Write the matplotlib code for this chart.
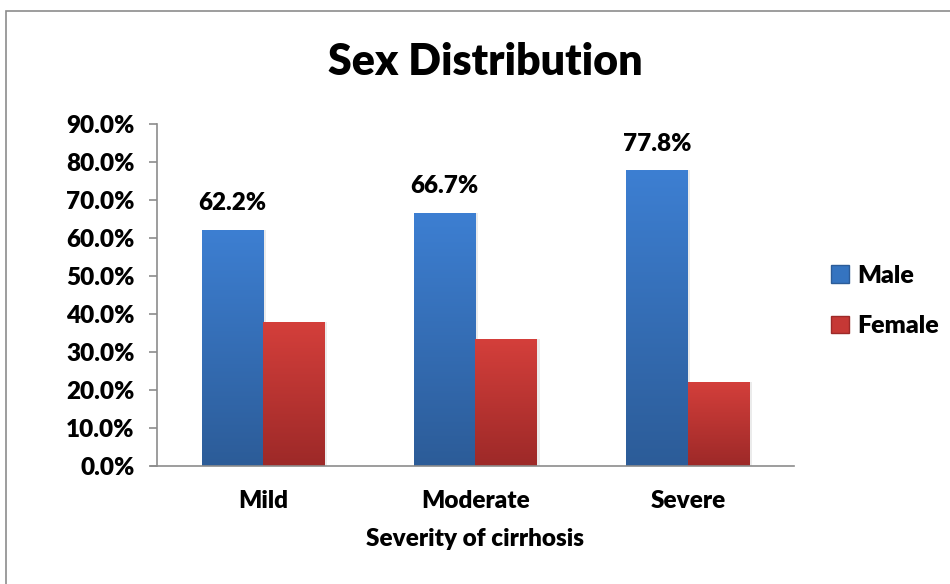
import numpy as np
import matplotlib
matplotlib.use("Agg")
import matplotlib.pyplot as plt
from matplotlib.colors import LinearSegmentedColormap
from matplotlib.patches import Rectangle, Patch

plt.rcParams['font.family'] = ['Lato', 'DejaVu Sans']
plt.rcParams['font.weight'] = 'heavy'
FW = 'heavy'

# 重症度ごとの男女比 (%)
categories = ['Mild', 'Moderate', 'Severe']
male = [62.2, 66.7, 77.8]
female = [37.8, 33.3, 22.2]
yticks = [0, 10, 20, 30, 40, 50, 60, 70, 80, 90]

# 棒グラフのグラデーション (上が明るく下が暗い)
blue_cmap = LinearSegmentedColormap.from_list('blue', ['#2c5c98', '#3d7fd2'])
red_cmap = LinearSegmentedColormap.from_list('red', ['#9d2928', '#d43f3b'])

fig = plt.figure(figsize=(9.5, 5.84), dpi=100)
# 外枠
fig.patches.append(Rectangle((6 / 950, -0.1), 1.2, 1 - 11 / 584 + 0.1,
                             transform=fig.transFigure, fill=False,
                             edgecolor='#8c8c8c', linewidth=1.2))

ax = fig.add_axes([157 / 950, 1 - 466 / 584, 637 / 950, 342 / 584])

x = np.arange(len(categories))
w = 0.29


def gradient_bars(xs, vals, cmap):
    bars = ax.bar(xs, vals, w, color='none', edgecolor='none', zorder=2)
    grad = np.linspace(0, 1, 256).reshape(-1, 1)
    for b in bars:
        x0, y0 = b.get_x(), b.get_y()
        # 右側にうっすら影
        ax.add_patch(Rectangle((x0 + 0.012, y0), b.get_width(), b.get_height(),
                               facecolor='#000000', alpha=0.08,
                               edgecolor='none', zorder=1))
        im = ax.imshow(grad, cmap=cmap, origin='lower', aspect='auto',
                       extent=[x0, x0 + b.get_width(), y0, y0 + b.get_height()],
                       zorder=2)
        im.set_clip_path(b)
    return bars


gradient_bars(x - w / 2, male, blue_cmap)
gradient_bars(x + w / 2, female, red_cmap)

for xi, v in zip(x - w / 2, male):
    ax.text(xi, v + 4, f'{v:.1f}%', ha='center', va='bottom',
            fontsize=17.5, fontweight=FW)

ax.set_xlim(-0.5, 2.5)
ax.set_ylim(0, 90)
ax.set_yticks(yticks)
ax.set_yticklabels([f'{t:.1f}%' for t in yticks], fontsize=17.5, fontweight=FW)
ax.set_xticks(x)
ax.set_xticklabels(categories, fontsize=17.5, fontweight=FW)
ax.tick_params(axis='x', length=0, pad=17)
ax.tick_params(axis='y', length=6, width=1.2, color='#8c8c8c', pad=10)
for s in ['top', 'right']:
    ax.spines[s].set_visible(False)
for s in ['left', 'bottom']:
    ax.spines[s].set_color('#8c8c8c')
    ax.spines[s].set_linewidth(1.2)
ax.spines['bottom'].set_bounds(-0.53, 2.5)
ax.set_xlabel('Severity of cirrhosis', fontsize=17.5, fontweight=FW, labelpad=12)

fig.text(485 / 950, 1 - 62 / 584, 'Sex Distribution', ha='center', va='center',
         fontsize=31, fontweight=FW)

handles = [Patch(facecolor='#3574c0', edgecolor='#2c5c98'),
           Patch(facecolor='#c63835', edgecolor='#9d2928')]
fig.legend(handles, ['Male', 'Female'], loc='center left',
           bbox_to_anchor=(831 / 950, 1 - 301 / 584), frameon=False,
           prop={'size': 18, 'weight': FW}, handlelength=0.7,
           handleheight=0.7, handletextpad=0.35, labelspacing=1.15,
           borderpad=0, borderaxespad=0)

fig.savefig('out.png', dpi=100)
